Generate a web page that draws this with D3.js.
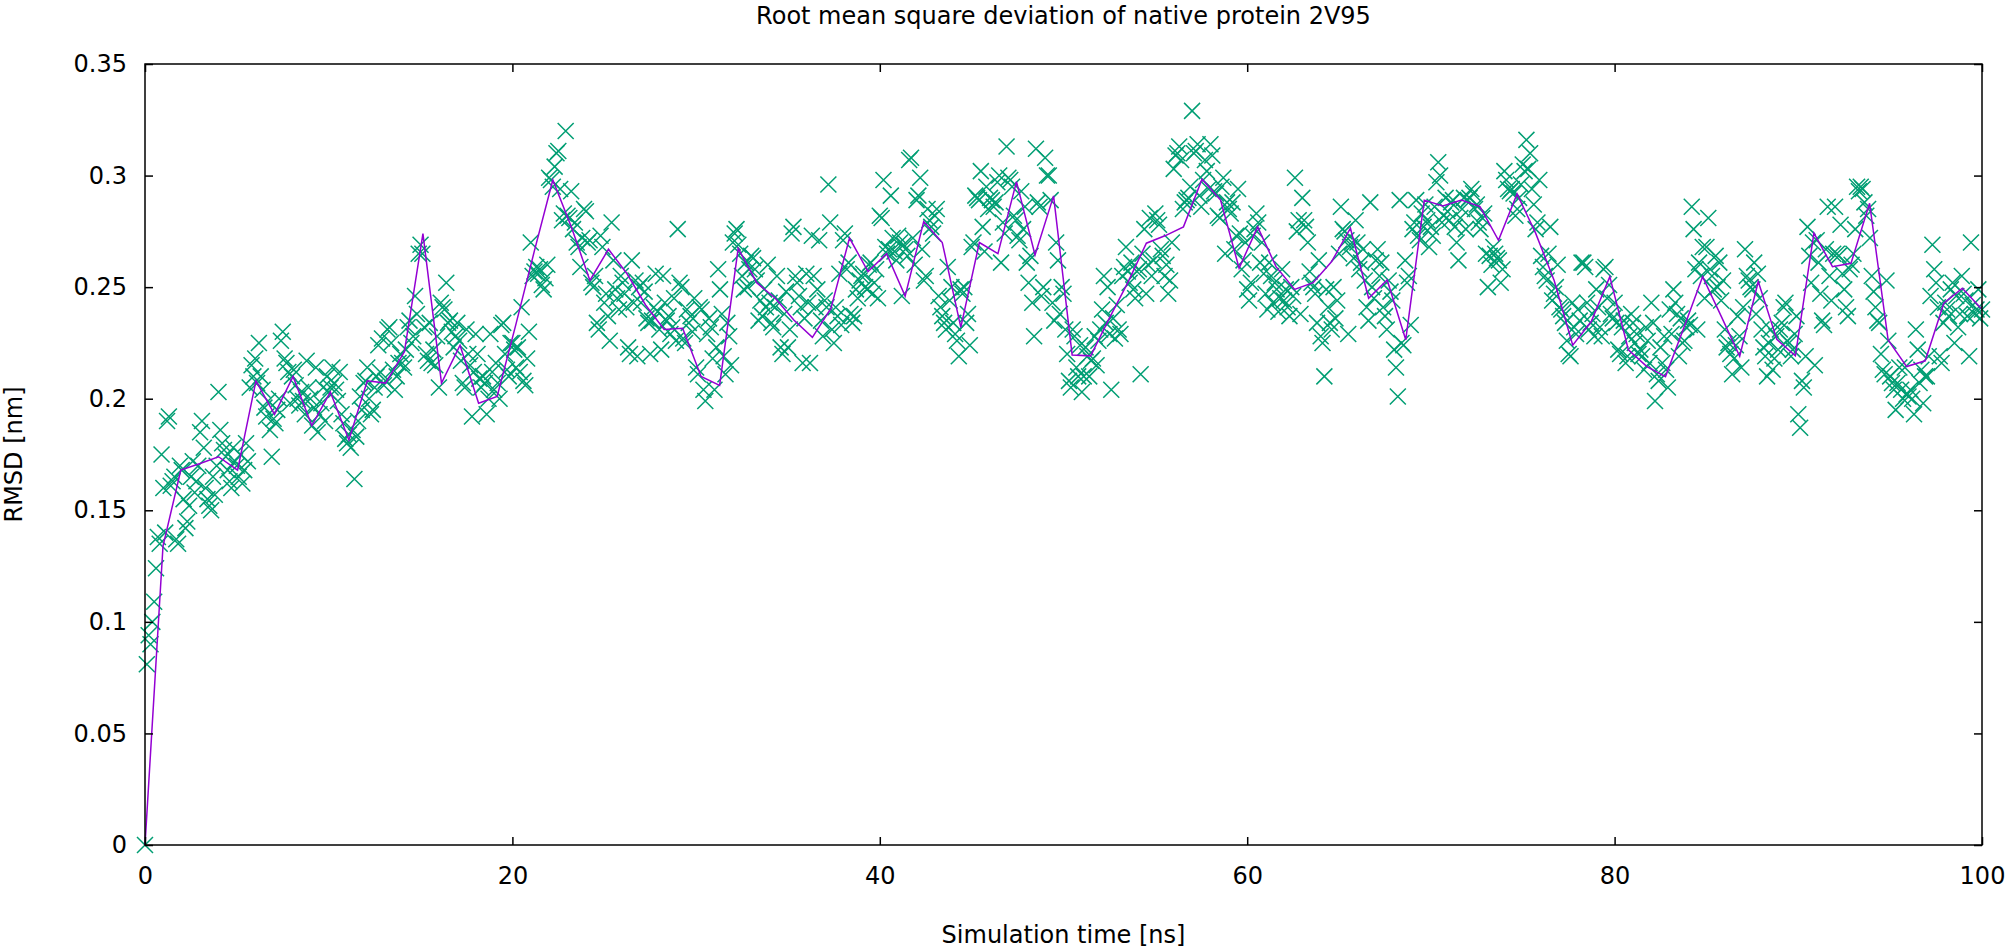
<!DOCTYPE html>
<html>
<head>
<meta charset="utf-8">
<script src="https://cdn.jsdelivr.net/npm/d3@7"></script>
<style>
  html, body { margin: 0; padding: 0; background: #fff; }
  svg { display: block; }
  text { font-family: "DejaVu Sans", Verdana, sans-serif; fill: #000; }
</style>
</head>
<body>
<svg id="chart" width="2008" height="950"></svg>
<script>
// ---------------- data ----------------
const chartTitle = "Root mean square deviation of native protein 2V95";
const xLabel = "Simulation time [ns]";
const yLabel = "RMSD [nm]";
const xTicks = [0, 20, 40, 60, 80, 100];
const yTicks = [0, 0.05, 0.1, 0.15, 0.2, 0.25, 0.3, 0.35];

// RMSD of every frame (one frame each 0.1 ns, starting at 0 ns), ten frames per row
const frameStep = 0.1;
const frameRmsd = [
  0, 0.081, 0.094, 0.09, 0.1, 0.109, 0.124, 0.138, 0.135, 0.175,
  0.16, 0.14, 0.19, 0.192, 0.161, 0.163, 0.165, 0.137, 0.135, 0.17,
  0.168, 0.155, 0.142, 0.145, 0.152, 0.165, 0.172, 0.158, 0.163, 0.17,
  0.185, 0.19, 0.178, 0.16, 0.155, 0.152, 0.15, 0.165, 0.157, 0.17,
  0.203, 0.186, 0.18, 0.177, 0.174, 0.168, 0.163, 0.16, 0.178, 0.172,
  0.17, 0.165, 0.175, 0.162, 0.168, 0.18, 0.172, 0.205, 0.215, 0.21,
  0.218, 0.207, 0.225, 0.21, 0.204, 0.196, 0.192, 0.199, 0.186, 0.174,
  0.191, 0.189, 0.195, 0.2, 0.226, 0.23, 0.218, 0.216, 0.212, 0.198,
  0.21, 0.213, 0.206, 0.2, 0.197, 0.203, 0.199, 0.193, 0.217, 0.205,
  0.2, 0.188, 0.196, 0.214, 0.185, 0.193, 0.198, 0.205, 0.19, 0.21,
  0.203, 0.205, 0.214, 0.207, 0.204, 0.199, 0.212, 0.193, 0.189, 0.182,
  0.18, 0.184, 0.178, 0.186, 0.164, 0.183, 0.19, 0.201, 0.195, 0.207,
  0.208, 0.214, 0.2, 0.193, 0.195, 0.205, 0.21, 0.224, 0.212, 0.227,
  0.206, 0.208, 0.231, 0.232, 0.225, 0.213, 0.204, 0.21, 0.216, 0.22,
  0.216, 0.214, 0.222, 0.232, 0.235, 0.225, 0.228, 0.246, 0.238, 0.265,
  0.269, 0.265, 0.232, 0.22, 0.217, 0.234, 0.216, 0.222, 0.215, 0.228,
  0.205, 0.243, 0.241, 0.24, 0.252, 0.234, 0.235, 0.23, 0.223, 0.228,
  0.234, 0.226, 0.217, 0.207, 0.205, 0.231, 0.22, 0.215, 0.192, 0.212,
  0.229, 0.22, 0.209, 0.205, 0.21, 0.207, 0.193, 0.2, 0.229, 0.212,
  0.204, 0.216, 0.207, 0.2, 0.233, 0.234, 0.22, 0.213, 0.21, 0.225,
  0.225, 0.222, 0.214, 0.223, 0.212, 0.241, 0.208, 0.206, 0.218, 0.23,
  0.27, 0.255, 0.257, 0.259, 0.256, 0.258, 0.251, 0.249, 0.254, 0.26,
  0.299, 0.298, 0.295, 0.304, 0.31, 0.311, 0.294, 0.28, 0.283, 0.32,
  0.282, 0.281, 0.293, 0.276, 0.279, 0.27, 0.268, 0.259, 0.272, 0.285,
  0.284, 0.27, 0.271, 0.252, 0.25, 0.255, 0.234, 0.231, 0.273, 0.268,
  0.243, 0.247, 0.237, 0.226, 0.279, 0.262, 0.249, 0.245, 0.24, 0.255,
  0.252, 0.247, 0.241, 0.223, 0.22, 0.262, 0.243, 0.253, 0.219, 0.25,
  0.243, 0.252, 0.248, 0.236, 0.234, 0.22, 0.235, 0.241, 0.256, 0.239,
  0.231, 0.222, 0.255, 0.243, 0.235, 0.237, 0.229, 0.232, 0.245, 0.226,
  0.276, 0.252, 0.25, 0.227, 0.225, 0.24, 0.234, 0.237, 0.23, 0.245,
  0.214, 0.211, 0.241, 0.24, 0.204, 0.199, 0.229, 0.236, 0.232, 0.218,
  0.204, 0.223, 0.258, 0.249, 0.238, 0.219, 0.211, 0.234, 0.228, 0.215,
  0.27, 0.274, 0.276, 0.269, 0.265, 0.255, 0.249, 0.261, 0.25, 0.258,
  0.264, 0.263, 0.258, 0.253, 0.235, 0.244, 0.237, 0.249, 0.241, 0.26,
  0.243, 0.234, 0.232, 0.241, 0.255, 0.244, 0.223, 0.22, 0.238, 0.248,
  0.223, 0.231, 0.274, 0.277, 0.255, 0.252, 0.246, 0.241, 0.216, 0.236,
  0.256, 0.243, 0.216, 0.273, 0.255, 0.241, 0.249, 0.271, 0.235, 0.228,
  0.244, 0.241, 0.296, 0.279, 0.231, 0.225, 0.241, 0.237, 0.256, 0.233,
  0.271, 0.274, 0.258, 0.261, 0.238, 0.234, 0.237, 0.249, 0.245, 0.253,
  0.255, 0.256, 0.25, 0.249, 0.26, 0.261, 0.247, 0.252, 0.258, 0.245,
  0.282, 0.281, 0.298, 0.268, 0.265, 0.267, 0.291, 0.272, 0.266, 0.262,
  0.273, 0.27, 0.246, 0.269, 0.267, 0.264, 0.307, 0.308, 0.272, 0.26,
  0.289, 0.291, 0.299, 0.267, 0.253, 0.255, 0.285, 0.28, 0.277, 0.274,
  0.282, 0.285, 0.246, 0.241, 0.237, 0.234, 0.231, 0.259, 0.244, 0.25,
  0.234, 0.229, 0.226, 0.219, 0.249, 0.247, 0.25, 0.234, 0.238, 0.224,
  0.268, 0.27, 0.291, 0.29, 0.289, 0.302, 0.277, 0.266, 0.295, 0.285,
  0.29, 0.289, 0.286, 0.288, 0.297, 0.3, 0.261, 0.279, 0.274, 0.313,
  0.299, 0.298, 0.295, 0.282, 0.28, 0.273, 0.271, 0.293, 0.276, 0.286,
  0.261, 0.252, 0.264, 0.243, 0.228, 0.312, 0.288, 0.286, 0.246, 0.25,
  0.308, 0.3, 0.3, 0.289, 0.243, 0.235, 0.27, 0.262, 0.238, 0.25,
  0.247, 0.231, 0.22, 0.208, 0.205, 0.231, 0.228, 0.214, 0.21, 0.224,
  0.203, 0.21, 0.223, 0.219, 0.21, 0.217, 0.218, 0.228, 0.215, 0.226,
  0.231, 0.24, 0.255, 0.234, 0.25, 0.229, 0.204, 0.236, 0.227, 0.242,
  0.231, 0.229, 0.255, 0.259, 0.268, 0.257, 0.252, 0.261, 0.249, 0.245,
  0.257, 0.258, 0.211, 0.265, 0.276, 0.247, 0.26, 0.281, 0.255, 0.262,
  0.283, 0.28, 0.278, 0.267, 0.264, 0.255, 0.26, 0.247, 0.253, 0.27,
  0.303, 0.309, 0.31, 0.313, 0.307, 0.285, 0.288, 0.289, 0.29, 0.295,
  0.329, 0.31, 0.311, 0.314, 0.291, 0.286, 0.298, 0.307, 0.302, 0.294,
  0.314, 0.309, 0.293, 0.292, 0.282, 0.281, 0.295, 0.299, 0.265, 0.288,
  0.285, 0.283, 0.288, 0.267, 0.273, 0.294, 0.274, 0.258, 0.262, 0.27,
  0.249, 0.244, 0.252, 0.273, 0.276, 0.283, 0.279, 0.261, 0.27, 0.256,
  0.247, 0.24, 0.261, 0.255, 0.243, 0.252, 0.249, 0.239, 0.245, 0.258,
  0.244, 0.249, 0.241, 0.237, 0.25, 0.246, 0.299, 0.275, 0.28, 0.238,
  0.29, 0.28, 0.277, 0.27, 0.257, 0.252, 0.25, 0.247, 0.234, 0.262,
  0.228, 0.225, 0.21, 0.249, 0.241, 0.234, 0.231, 0.25, 0.236, 0.244,
  0.265, 0.286, 0.276, 0.275, 0.271, 0.229, 0.268, 0.27, 0.263, 0.28,
  0.27, 0.258, 0.261, 0.267, 0.253, 0.241, 0.235, 0.288, 0.25, 0.245,
  0.262, 0.267, 0.255, 0.261, 0.241, 0.237, 0.231, 0.253, 0.248, 0.244,
  0.222, 0.214, 0.201, 0.289, 0.225, 0.224, 0.262, 0.252, 0.255, 0.233,
  0.276, 0.279, 0.289, 0.273, 0.271, 0.283, 0.277, 0.287, 0.28, 0.268,
  0.277, 0.273, 0.286, 0.297, 0.306, 0.3, 0.279, 0.282, 0.29, 0.284,
  0.28, 0.288, 0.289, 0.277, 0.27, 0.262, 0.281, 0.285, 0.29, 0.276,
  0.289, 0.29, 0.294, 0.292, 0.285, 0.287, 0.279, 0.276, 0.281, 0.283,
  0.265, 0.25, 0.264, 0.26, 0.268, 0.265, 0.263, 0.262, 0.252, 0.258,
  0.302, 0.298, 0.294, 0.293, 0.294, 0.292, 0.282, 0.285, 0.29, 0.296,
  0.305, 0.302, 0.316, 0.303, 0.31, 0.294, 0.287, 0.276, 0.279, 0.298,
  0.264, 0.259, 0.255, 0.253, 0.265, 0.277, 0.244, 0.247, 0.25, 0.26,
  0.241, 0.24, 0.237, 0.234, 0.226, 0.22, 0.219, 0.243, 0.232, 0.229,
  0.24, 0.235, 0.261, 0.261, 0.259, 0.243, 0.231, 0.234, 0.238, 0.228,
  0.249, 0.241, 0.232, 0.228, 0.258, 0.259, 0.245, 0.251, 0.238, 0.236,
  0.243, 0.234, 0.222, 0.22, 0.232, 0.235, 0.216, 0.219, 0.228, 0.238,
  0.234, 0.225, 0.229, 0.22, 0.222, 0.219, 0.213, 0.232, 0.226, 0.216,
  0.243, 0.234, 0.199, 0.211, 0.208, 0.223, 0.216, 0.228, 0.213, 0.205,
  0.24, 0.229, 0.249, 0.243, 0.238, 0.219, 0.236, 0.225, 0.226, 0.232,
  0.235, 0.233, 0.286, 0.276, 0.258, 0.231, 0.261, 0.255, 0.268, 0.245,
  0.268, 0.281, 0.258, 0.255, 0.249, 0.264, 0.25, 0.261, 0.244, 0.253,
  0.231, 0.223, 0.225, 0.22, 0.211, 0.218, 0.224, 0.237, 0.228, 0.214,
  0.241, 0.267, 0.255, 0.253, 0.25, 0.249, 0.261, 0.238, 0.256, 0.245,
  0.231, 0.223, 0.219, 0.21, 0.225, 0.231, 0.213, 0.218, 0.228, 0.222,
  0.231, 0.234, 0.241, 0.243, 0.226, 0.225, 0.219, 0.222, 0.229, 0.237,
  0.193, 0.187, 0.208, 0.205, 0.219, 0.277, 0.264, 0.252, 0.27, 0.215,
  0.271, 0.261, 0.247, 0.235, 0.233, 0.267, 0.286, 0.255, 0.244, 0.265,
  0.286, 0.265, 0.264, 0.278, 0.256, 0.249, 0.241, 0.237, 0.258, 0.26,
  0.265, 0.276, 0.295, 0.293, 0.295, 0.294, 0.288, 0.282, 0.285, 0.272,
  0.255, 0.248, 0.241, 0.235, 0.234, 0.22, 0.213, 0.211, 0.253, 0.226,
  0.21, 0.207, 0.204, 0.195, 0.207, 0.214, 0.204, 0.2, 0.214, 0.202,
  0.201, 0.204, 0.2, 0.193, 0.231, 0.222, 0.207, 0.213, 0.198, 0.21,
  0.21, 0.219, 0.246, 0.269, 0.258, 0.252, 0.241, 0.219, 0.216, 0.234,
  0.243, 0.24, 0.237, 0.249, 0.252, 0.225, 0.246, 0.232, 0.238, 0.255,
  0.247, 0.244, 0.237, 0.219, 0.27, 0.242, 0.238, 0.24, 0.249, 0.236,
  0.24
];

// coarse (block) curve: times [ns] and RMSD [nm]
const blockTime = [
  0, 0.98, 1.95, 3.0, 4.0, 5.04, 6.04, 7.05, 8.06, 9.08,
  10.09, 11.1, 12.1, 13.1, 14.12, 15.13, 16.14, 17.15, 18.16, 19.17,
  20.18, 21.19, 22.2, 23.21, 24.22, 25.23, 26.24, 27.25, 28.26, 29.27,
  30.27, 31.28, 32.29, 33.3, 34.31, 35.32, 36.33, 37.34, 38.35, 39.36,
  40.37, 41.38, 42.39, 43.4, 44.41, 45.42, 46.43, 47.44, 48.45, 49.46,
  50.47, 51.48, 52.49, 53.5, 54.51, 55.52, 56.53, 57.54, 58.55, 59.56,
  60.57, 61.57, 62.58, 63.59, 64.6, 65.62, 66.61, 67.62, 68.63, 69.64,
  70.65, 71.66, 72.67, 73.68, 74.69, 75.7, 76.71, 77.72, 78.73, 79.74,
  80.75, 81.76, 82.77, 83.78, 84.79, 85.8, 86.81, 87.82, 88.83, 89.84,
  90.85, 91.86, 92.87, 93.88, 94.89, 95.9, 96.91, 97.92, 98.93, 99.94
];
const blockRmsd = [
  0, 0.134, 0.168, 0.171, 0.174, 0.168, 0.208, 0.193, 0.21, 0.188,
  0.203, 0.1815, 0.208, 0.207, 0.221, 0.274, 0.207, 0.224, 0.198, 0.201,
  0.233, 0.266, 0.298, 0.277, 0.253, 0.267, 0.256, 0.242, 0.231, 0.2316,
  0.21, 0.206, 0.2674, 0.252, 0.245, 0.2353, 0.2275, 0.2405, 0.272, 0.257,
  0.265, 0.246, 0.2794, 0.27, 0.232, 0.27, 0.265, 0.2973, 0.2644, 0.2909,
  0.2196, 0.2192, 0.236, 0.252, 0.2697, 0.273, 0.277, 0.2984, 0.289, 0.2585,
  0.277, 0.2592, 0.249, 0.252, 0.2615, 0.2764, 0.245, 0.2532, 0.2264, 0.289,
  0.2864, 0.289, 0.2861, 0.271, 0.2918, 0.2742, 0.253, 0.224, 0.2346, 0.2547,
  0.2219, 0.2144, 0.2099, 0.232, 0.2547, 0.237, 0.219, 0.2525, 0.2266, 0.2192,
  0.2742, 0.2592, 0.2607, 0.2876, 0.2263, 0.2144, 0.217, 0.2428, 0.2495, 0.2405
];

// ---------------- drawing ----------------
const W = 2008, H = 950;
const margin = { left: 145, right: W - 1982, top: 64, bottom: H - 845 };
const svg = d3.select("#chart");
svg.append("rect").attr("width", W).attr("height", H).attr("fill", "#fff");

const x = d3.scaleLinear().domain([0, 100]).range([margin.left, W - margin.right]);
const y = d3.scaleLinear().domain([0, 0.35]).range([H - margin.bottom, margin.top]);

const plot = svg.append("g");
plot.append("defs").append("clipPath").attr("id", "clip")
  .append("rect")
  .attr("x", x(0) - 10).attr("y", y(0.35) - 10)
  .attr("width", x(100) - x(0) + 20).attr("height", y(0) - y(0.35) + 20);

// scatter crosses
const frames = frameRmsd.map((v, i) => ({ t: i * frameStep, v }));
const cs = 8; // half size of the cross
plot.append("g")
  .attr("clip-path", "url(#clip)")
  .selectAll("path")
  .data(frames)
  .join("path")
  .attr("d", d => {
    const cx = x(d.t), cy = y(d.v);
    return `M${cx - cs},${cy - cs}L${cx + cs},${cy + cs}M${cx - cs},${cy + cs}L${cx + cs},${cy - cs}`;
  })
  .attr("fill", "none")
  .attr("stroke", "#009e73")
  .attr("stroke-width", 1.5);

// block curve
const blocks = blockTime.map((t, i) => ({ t, v: blockRmsd[i] }));
plot.append("path")
  .datum(blocks)
  .attr("fill", "none")
  .attr("stroke", "#9400d3")
  .attr("stroke-width", 1.5)
  .attr("stroke-linejoin", "miter")
  .attr("d", d3.line().x(d => x(d.t)).y(d => y(d.v)));

// axes (gnuplot style: inward ticks mirrored on all sides)
const tickLen = 8;
const axFont = "24px";
const fmtY = d => (d === 0 ? "0" : d3.format("")(+d.toFixed(2)));

const axB = d3.axisBottom(x).tickValues(xTicks).tickSize(-tickLen).tickPadding(tickLen + 14).tickFormat(d3.format("d"));
const axT = d3.axisTop(x).tickValues(xTicks).tickSize(-tickLen).tickFormat("");
const axL = d3.axisLeft(y).tickValues(yTicks).tickSize(-tickLen).tickPadding(tickLen + 10).tickFormat(fmtY);
const axR = d3.axisRight(y).tickValues(yTicks).tickSize(-tickLen).tickFormat("");

function styleAxis(g) {
  g.select(".domain").remove();
  g.selectAll(".tick line").attr("stroke", "#000").attr("stroke-width", 1.5);
  g.selectAll(".tick text").style("font-size", axFont).attr("fill", "#000");
}
svg.append("g").attr("transform", `translate(0,${y(0)})`).call(axB).call(styleAxis);
svg.append("g").attr("transform", `translate(0,${y(0.35)})`).call(axT).call(styleAxis);
svg.append("g").attr("transform", `translate(${x(0)},0)`).call(axL).call(styleAxis);
svg.append("g").attr("transform", `translate(${x(100)},0)`).call(axR).call(styleAxis);

// frame
svg.append("rect")
  .attr("x", x(0)).attr("y", y(0.35))
  .attr("width", x(100) - x(0)).attr("height", y(0) - y(0.35))
  .attr("fill", "none").attr("stroke", "#000").attr("stroke-width", 1.5);

// titles
svg.append("text").attr("x", (x(0) + x(100)) / 2).attr("y", 16)
  .attr("text-anchor", "middle").attr("dominant-baseline", "central")
  .style("font-size", "24px").text(chartTitle);
svg.append("text").attr("x", (x(0) + x(100)) / 2).attr("y", 935)
  .attr("text-anchor", "middle").attr("dominant-baseline", "central")
  .style("font-size", "24px").text(xLabel);
svg.append("text")
  .attr("transform", `translate(14,${(y(0) + y(0.35)) / 2}) rotate(-90)`)
  .attr("text-anchor", "middle").attr("dominant-baseline", "central")
  .style("font-size", "24px").text(yLabel);
</script>
</body>
</html>
